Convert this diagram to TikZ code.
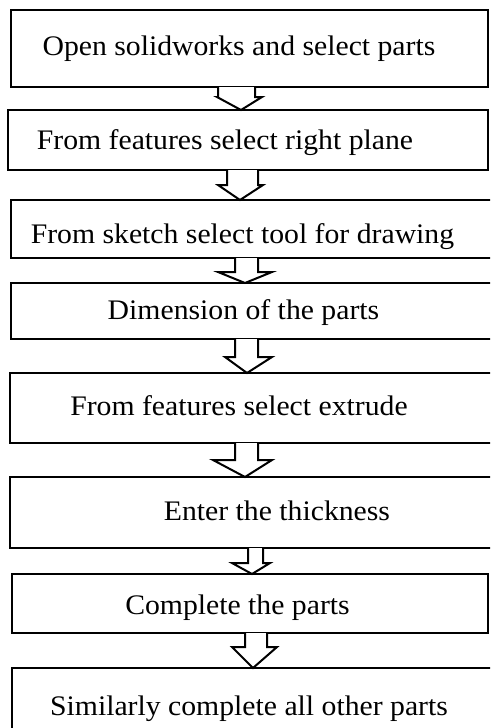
\documentclass[tikz,border=0pt]{standalone}
\usepackage{fontspec}
\setmainfont{Liberation Serif}[FakeStretch=1.05]
\begin{document}
\begin{tikzpicture}[x=1pt,y=-1pt,
  box/.style={draw, line width=2.4pt, rectangle, inner sep=0pt, outer sep=0pt, anchor=north west},
  lbl/.style={anchor=base, inner sep=0pt, font=\fontsize{28.3}{34}\selectfont},
  arr/.style={draw, line width=2pt, line join=miter, fill=white}]
\useasboundingbox (0,0) rectangle (490,728);
\clip (0,0) rectangle (490,728);
% boxes
\node[box, minimum width=477pt, minimum height=77pt] (b1) at (11,10) {};
\node[box, minimum width=480pt, minimum height=60pt] (b2) at (8,110) {};
\node[box, minimum width=490pt, minimum height=58pt] (b3) at (11,200) {};
\node[box, minimum width=490pt, minimum height=56pt] (b4) at (11,283) {};
\node[box, minimum width=490pt, minimum height=70pt] (b5) at (10,373) {};
\node[box, minimum width=490pt, minimum height=71pt] (b6) at (10,477) {};
\node[box, minimum width=476pt, minimum height=59pt] (b7) at (12,574) {};
\node[box, minimum width=490pt, minimum height=80pt] (b8) at (12,668) {};
% labels
\node[lbl] (t1) at (239,55) {Open solidworks and select parts};
\node[lbl] (t2) at (225,149) {From features select right plane};
\node[lbl] (t3) at (242.5,243) {From sketch select tool for drawing};
\node[lbl] (t4) at (243.5,319) {Dimension of the parts};
\node[lbl] (t5) at (239,415) {From features select extrude};
\node[lbl] (t6) at (277,520) {Enter the thickness};
\node[lbl] (t7) at (237.5,614) {Complete the parts};
\node[lbl] (t8) at (249,715) {Similarly complete all other parts};
% block arrows: from to shaftL shaftR headL headR tip headY
\newcommand{\blockarrow}[8]{%
  \draw[arr] (#3,0 |- #1.south) -- (#3,#8) -- (#5,#8) -- (#7,0 |- #2.north)
    -- (#6,#8) -- (#4,#8) -- (#4,0 |- #1.south);}
\blockarrow{b1}{b2}{218}{255}{217}{262}{241}{97}
\blockarrow{b2}{b3}{227}{258}{218}{263}{240}{185}
\blockarrow{b3}{b4}{235}{258}{218}{272}{245}{272}
\blockarrow{b4}{b5}{235}{258}{225}{272}{247}{357}
\blockarrow{b5}{b6}{235}{258}{213}{272}{245}{460}
\blockarrow{b6}{b7}{248}{263}{232}{270}{252}{563}
\blockarrow{b7}{b8}{245}{267}{232}{277}{253}{647}
\end{tikzpicture}
\end{document}
